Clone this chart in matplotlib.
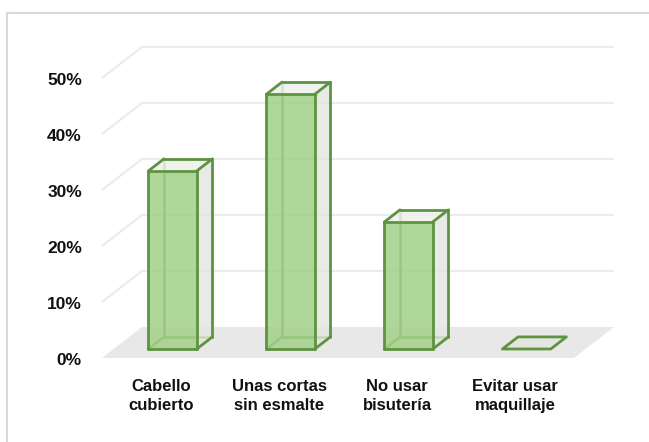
import matplotlib.pyplot as plt
from matplotlib.patches import Polygon
from matplotlib.lines import Line2D

plt.rcParams['font.family'] = ['Liberation Sans', 'DejaVu Sans']

categorias = ['Cabello\ncubierto', 'Unas cortas\nsin esmalte', 'No usar\nbisutería', 'Evitar usar\nmaquillaje']
valores = [31.8, 45.5, 22.7, 0.0]
ticks = [0, 10, 20, 30, 40, 50]
tick_labels = ['0%', '10%', '20%', '30%', '40%', '50%']

# oblique projection: full floor depth shifts x by DX (category units) and y by DY (%)
DX = 0.339
DY = 5.54
D0, D1 = 0.29, 0.68      # depth range occupied by the columns
ANCHO = 0.41             # column width

VERDE = '#5e9441'
FRENTE = '#a3d088'
LADO = '#e3e6df'
TAPA = '#eef0eb'
PISO = '#e8e8e8'
GRILLA = '#ebebeb'


def p(x, y, d):
    return (x + d * DX, y + d * DY)


fig = plt.figure(figsize=(6.49, 4.42), dpi=100)
ax = fig.add_axes([0, 0, 1, 1])
ax.set_xlim(-161 / 118, (649 - 161) / 118)
ax.set_ylim(-84 / 5.6, 358 / 5.6)
ax.axis('off')

x0, x1 = -0.5, len(categorias) - 0.5

# floor
ax.add_patch(Polygon([p(x0, 0, 0), p(x1, 0, 0), p(x1, 0, 1), p(x0, 0, 1)],
                     closed=True, fc=PISO, ec='none', zorder=1))

# gridlines on side wall and back wall
for t in ticks[1:]:
    xs, ys = zip(p(x0, t, 0), p(x0, t, 1), p(x1, t, 1))
    ax.plot(xs, ys, color=GRILLA, lw=1.5, zorder=0.5, solid_capstyle='butt')

for i, v in enumerate(valores):
    a, b = i - ANCHO / 2, i + ANCHO / 2
    # corners: front (D0) and back (D1), bottom (0) and top (v)
    fbl, fbr, ftl, ftr = p(a, 0, D0), p(b, 0, D0), p(a, v, D0), p(b, v, D0)
    bbl, bbr, btl, btr = p(a, 0, D1), p(b, 0, D1), p(a, v, D1), p(b, v, D1)

    if v == 0:
        ax.add_patch(Polygon([fbl, fbr, bbr, bbl], closed=True, fc=LADO,
                             ec=VERDE, lw=2, joinstyle='round', zorder=3))
        continue

    # hidden edges, seen through the faces
    for e in [(bbl, bbr), (bbl, btl), (fbl, bbl)]:
        xs, ys = zip(*e)
        ax.plot(xs, ys, color=VERDE, lw=1.8, zorder=2, solid_capstyle='round')

    ax.add_patch(Polygon([fbr, bbr, btr, ftr], closed=True, fc=LADO, ec='none',
                         alpha=0.8, zorder=3))
    ax.add_patch(Polygon([ftl, ftr, btr, btl], closed=True, fc=TAPA, ec='none',
                         alpha=0.85, zorder=3))
    ax.add_patch(Polygon([fbl, fbr, ftr, ftl], closed=True, fc=FRENTE, ec='none',
                         alpha=0.85, zorder=4))

    # visible edges
    for e in [(fbl, fbr), (fbr, ftr), (ftr, ftl), (ftl, fbl),
              (fbr, bbr), (bbr, btr), (ftr, btr), (btr, btl), (btl, ftl)]:
        xs, ys = zip(*e)
        ax.plot(xs, ys, color=VERDE, lw=2, zorder=5, solid_capstyle='round')

# value axis labels along the front of the side wall
for t, lab in zip(ticks, tick_labels):
    ax.text(x0 - 0.17, t - 0.4, lab, ha='right', va='center', fontsize=12.5,
            fontweight='bold', color='#111111')

for i, lab in enumerate(categorias):
    ax.text(i, -3.7, lab, ha='center', va='top', fontsize=12, fontweight='bold',
            color='#111111', linespacing=1.35)

# chart area border
borde = dict(color='#d9d9d9', lw=1.5, transform=fig.transFigure)
fig.add_artist(Line2D([6.5 / 649, 1.0], [1 - 12.5 / 442] * 2, **borde))
fig.add_artist(Line2D([6.5 / 649] * 2, [0.0, 1 - 12.5 / 442], **borde))

fig.savefig('out.png', dpi=100)
